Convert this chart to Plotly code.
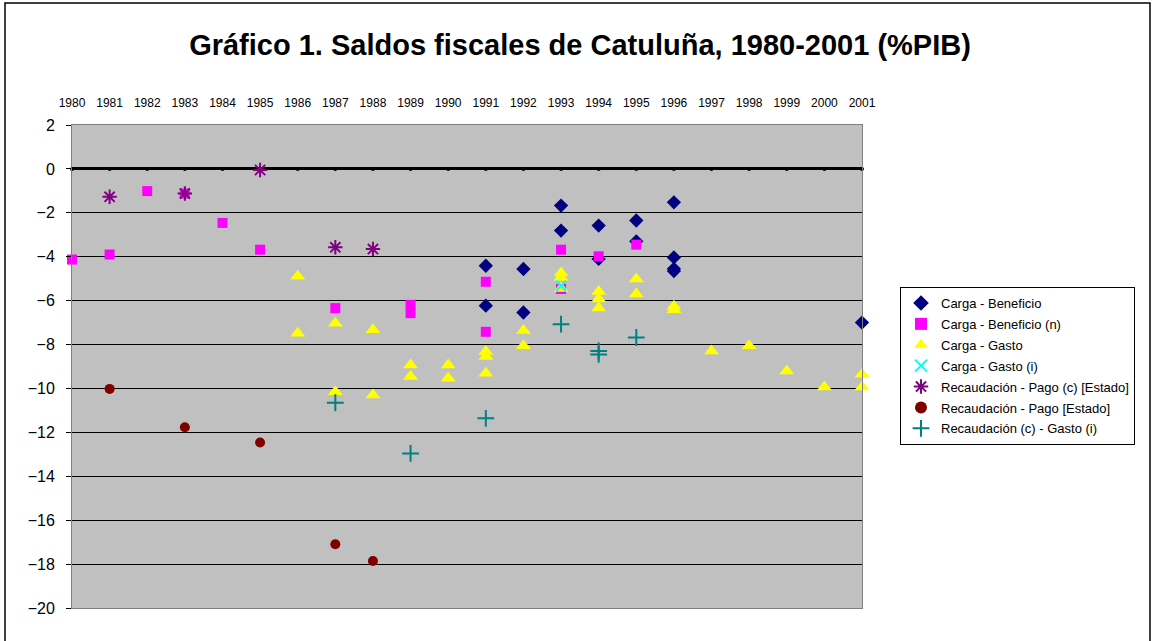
import plotly.graph_objects as go

# ---- data ----
years = list(range(1980, 2002))

cb_years = [1991, 1991, 1992, 1992, 1993, 1993, 1994, 1994, 1995, 1995, 1996, 1996, 1996, 1996, 2001]
cb_vals = [-4.41, -6.23, -4.56, -6.54, -1.67, -2.81, -2.58, -4.1, -2.35, -3.3, -1.52, -4.03, -4.55, -4.65, -7.0]

cbn_years = [1980, 1981, 1982, 1983, 1984, 1985, 1987, 1989, 1989, 1991, 1991, 1993, 1993, 1994, 1995]
cbn_vals = [-4.13, -3.9, -1.01, -1.12, -2.46, -3.68, -6.34, -6.19, -6.57, -5.14, -7.42, -3.68, -5.47, -3.98, -3.45]

cg_years = [1986, 1986, 1987, 1987, 1988, 1988, 1989, 1989, 1990, 1990, 1991, 1991, 1991,
            1992, 1992, 1993, 1993, 1993, 1994, 1994, 1994, 1995, 1995, 1996, 1996,
            1997, 1998, 1999, 2000, 2001, 2001]
cg_vals = [-4.89, -7.48, -7.03, -10.15, -7.33, -10.3, -8.93, -9.46, -8.93, -9.54, -8.32, -8.55, -9.31,
           -7.36, -8.06, -4.74, -4.95, -5.45, -5.58, -5.93, -6.34, -5.01, -5.7, -6.26, -6.42,
           -8.29, -8.06, -9.2, -9.93, -9.35, -9.93]

cgi_years = [1993]
cgi_vals = [-5.32]

rpc_years = [1981, 1983, 1985, 1987, 1988]
rpc_vals = [-1.27, -1.12, -0.05, -3.57, -3.65]

rp_years = [1981, 1983, 1985, 1987, 1988]
rp_vals = [-10.02, -11.77, -12.46, -17.1, -17.86]

rcg_years = [1987, 1989, 1991, 1993, 1994, 1994, 1995]
rcg_vals = [-10.65, -12.96, -11.36, -7.07, -8.29, -8.45, -7.68]

y_ticks = list(range(-20, 3, 2))

# ---- figure ----
W, H = 1153, 641
L, R, T, B = 72, 862, 125, 608   # plot area in pixels

def px_x(p):
    return (p - L) / (R - L)

def px_y(p):
    return (B - p) / (B - T)

fig = go.Figure()

# tick dots along the zero axis
fig.add_trace(go.Scatter(x=years, y=[0] * len(years), mode="markers",
                         marker=dict(symbol="circle", size=4, color="black"),
                         showlegend=False, hoverinfo="skip", cliponaxis=False))

series = [
    ("Carga - Beneficio", cb_years, cb_vals, dict(symbol="diamond", size=11, color="#000080")),
    ("Carga - Beneficio (n)", cbn_years, cbn_vals, dict(symbol="square", size=10, color="#FF00FF")),
    ("Carga - Gasto", cg_years, cg_vals, dict(symbol="triangle-up", size=13, color="#FFFF00")),
    ("Carga - Gasto (i)", cgi_years, cgi_vals, dict(symbol="x-thin", size=10, color="#00FFFF",
                                                    line=dict(color="#00FFFF", width=2))),
    ("Recaudación - Pago (c) [Estado]", rpc_years, rpc_vals, dict(symbol="asterisk", size=12, color="#800080",
                                                                 line=dict(color="#800080", width=2))),
    ("Recaudación - Pago [Estado]", rp_years, rp_vals, dict(symbol="circle", size=10, color="#800000")),
    ("Recaudación (c) - Gasto (i)", rcg_years, rcg_vals, dict(symbol="cross-thin", size=12, color="#008080",
                                                             line=dict(color="#008080", width=2))),
]

for i, (name, xs, ys, mk) in enumerate(series):
    fig.add_trace(go.Scatter(x=xs, y=ys, mode="markers", name=name, marker=mk,
                             legendgroup=f"g{i}", cliponaxis=False))

fig.update_layout(
    width=W, height=H,
    margin=dict(l=L, r=W - R, t=T, b=H - B),
    paper_bgcolor="white",
    plot_bgcolor="#C0C0C0",
    font=dict(family="Liberation Sans, Arial, sans-serif", color="black"),
    title=dict(text="<b>Gráfico 1. Saldos fiscales de Catuluña, 1980-2001 (%PIB)</b>",
               x=px_x(580), xref="paper", xanchor="center",
               y=1 - 45 / H, yref="container", yanchor="middle",
               font=dict(size=29, color="black")),
    xaxis=dict(range=[1980, 2001], side="top", tickmode="array", tickvals=years,
               ticktext=[str(y) for y in years], tickfont=dict(size=12),
               showgrid=False, zeroline=False, ticks="outside", ticklen=12,
               tickcolor="rgba(0,0,0,0)", showline=True, linecolor="#808080",
               linewidth=1, mirror=True),
    yaxis=dict(range=[-20, 2], tickmode="array", tickvals=y_ticks,
               tickfont=dict(size=16), showgrid=True, gridcolor="black", gridwidth=1,
               zeroline=True, zerolinecolor="black", zerolinewidth=3,
               ticks="outside", ticklen=5, tickcolor="black", ticklabelstandoff=8,
               showline=True, linecolor="#808080", linewidth=1, mirror=True),
    legend=dict(x=px_x(900), y=px_y(287), xanchor="left", yanchor="top",
                bgcolor="white", bordercolor="black", borderwidth=1,
                font=dict(size=13, color="black"), traceorder="grouped",
                tracegroupgap=1, itemsizing="constant", itemwidth=30),
    shapes=[dict(type="rect", xref="paper", yref="paper",
                 x0=px_x(5), x1=px_x(1150), y0=px_y(660), y1=px_y(3),
                 line=dict(color="black", width=1.5), fillcolor="rgba(0,0,0,0)", layer="below")],
)

fig.write_html("out.html", config={"displayModeBar": False},
               post_script="document.body.style.margin='0';document.body.style.overflow='hidden';")
